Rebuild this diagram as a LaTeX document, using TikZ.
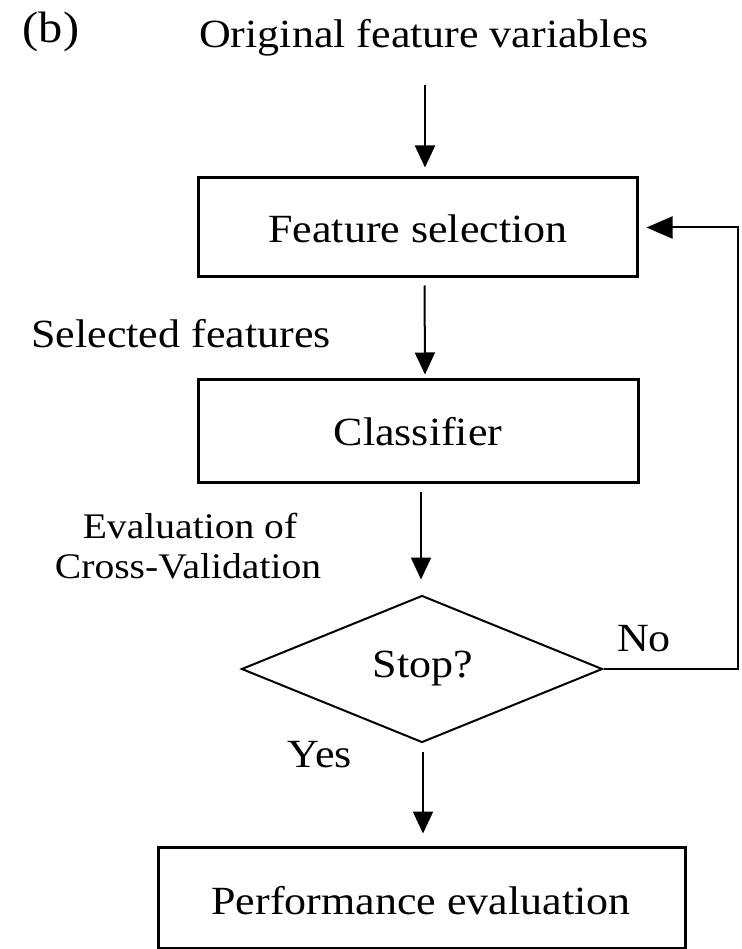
\documentclass[tikz,border=0pt]{standalone}
\usepackage{fontspec}
\setmainfont{Liberation Serif}[FakeStretch=1.1]
\usetikzlibrary{arrows.meta,shapes.geometric,calc}
\tikzset{
  box/.style={draw, line width=3pt, inner sep=0pt},
  lbl/.style={inner sep=0pt, anchor=base, font=\fontsize{40}{46}\selectfont},
  smalllbl/.style={inner sep=0pt, anchor=base, font=\fontsize{36}{40}\selectfont},
  flow/.style={line width=2pt, -{Triangle[length=22pt,width=20pt]}},
  dec/.style={draw, diamond, line width=2pt, inner sep=0pt, minimum width=361pt, minimum height=147pt}
}
\begin{document}
\begin{tikzpicture}[x=1pt,y=-1pt]
\useasboundingbox (0,0) rectangle (741,949);
\fill[white] (0,0) rectangle (741,949);

\node[lbl, font=\fontsize{44}{48}\selectfont] (b) at (51,43) {(b)};
\node[lbl] (orig) at (424,48) {Original feature variables};

\node[box, minimum width=439pt, minimum height=99pt] (fs) at (417.5,227.5) {};
\node[lbl] (fstext) at (418,243) {Feature selection};

\node[lbl] (sel) at (181,347) {Selected features};

\node[box, minimum width=440pt, minimum height=103pt] (cl) at (418,430.5) {};
\node[lbl] (cltext) at (418,445) {Classifier};

\node[smalllbl] (ev1) at (190,538) {Evaluation of};
\node[smalllbl] (ev2) at (188,578) {Cross-Validation};

\node[dec] (stop) at (422,669) {};
\node[lbl] (stoptext) at (423,677) {Stop?};

\node[lbl] (no) at (644,651) {No};
\node[lbl] (yes) at (320,767) {Yes};

\node[box, minimum width=527pt, minimum height=101pt] (pe) at (421.5,897.5) {};
\node[lbl] (petext) at (421,914) {Performance evaluation};

\coordinate (start) at (425,85);
\coordinate (fb) at (738,450);

\draw[flow, shorten >=9pt] (start) -- (start |- fs.north);
\draw[flow, shorten <=7pt, shorten >=3pt] ($(fs.south)+(7,0)$) -- ($(cl.north)+(7,0)$);
\draw[flow, shorten <=8pt, shorten >=15pt] ($(cl.south)+(3,0)$) -- ($(stop.north)+(-1,0)$);
\draw[flow, shorten <=8pt, shorten >=12pt] ($(stop.south)+(1,0)$) -- ($(pe.north)+(1.5,0)$);
\draw[line width=2pt, -{Triangle[length=26pt,width=22pt]}, shorten >=8pt]
  (stop.east) -- (fb |- stop.east) -- (fb |- fs.east) -- (fs.east);
\end{tikzpicture}
\end{document}
